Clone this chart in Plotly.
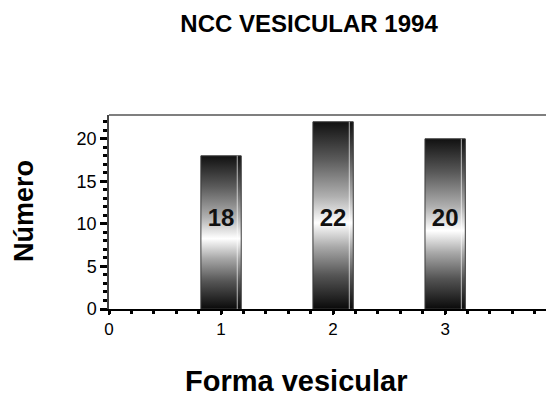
import plotly.graph_objects as go

# Forma vesicular: count per category
categories = [1, 2, 3]
counts = [18, 22, 20]
labels = ["18", "22", "20"]

x_ticks = [0, 1, 2, 3]
y_ticks = [0, 5, 10, 15, 20]

bar_width = 0.36
label_y = 10.5

# dark-light-dark vertical shading for each bar
shade = [
    [0.0, "#0a0a0a"],
    [0.18, "#555555"],
    [0.33, "#a8a8a8"],
    [0.46, "#ffffff"],
    [0.6, "#b0b0b0"],
    [0.8, "#5a5a5a"],
    [1.0, "#111111"],
]

fig = go.Figure()

for c, v in zip(categories, counts):
    x0, x1 = c - bar_width / 2, c + bar_width / 2
    fig.add_trace(go.Scatter(
        x=[x0, x1, x1, x0, x0],
        y=[0, 0, v, v, 0],
        mode="lines",
        fill="toself",
        fillgradient=dict(type="vertical", colorscale=shade, start=0, stop=v),
        line=dict(color="#3a3a3a", width=1),
        hoverinfo="skip",
        showlegend=False,
    ))
    # light edge strip on the right side of the bar
    fig.add_trace(go.Scatter(
        x=[x1 - 0.035, x1 - 0.035],
        y=[0, v],
        mode="lines",
        line=dict(color="rgba(255,255,255,0.55)", width=1.2),
        hoverinfo="skip",
        showlegend=False,
    ))

fig.add_trace(go.Scatter(
    x=categories,
    y=[label_y] * len(categories),
    mode="text",
    text=labels,
    textfont=dict(family="Liberation Sans", size=24, color="#111111", weight="bold"),
    hoverinfo="skip",
    showlegend=False,
))

fig.update_layout(
    width=546,
    height=398,
    margin=dict(l=109, r=0, t=115, b=89),
    paper_bgcolor="white",
    plot_bgcolor="white",
    title=dict(
        text="<b>NCC VESICULAR 1994</b>",
        x=0.566, xanchor="center",
        y=0.94, yanchor="middle",
        font=dict(family="Liberation Sans", size=24, color="black"),
    ),
    font=dict(family="Liberation Sans", color="black"),
    annotations=[
        dict(text="<b>Forma vesicular</b>", xref="paper", yref="paper",
             x=(296 - 109) / 437, y=-(381 - 309) / 194, xanchor="center", yanchor="middle",
             showarrow=False, font=dict(size=29, color="black")),
        dict(text="<b>Número</b>", xref="paper", yref="paper", textangle=-90,
             x=(24 - 109) / 437, y=(309 - 211) / 194, xanchor="center", yanchor="middle",
             showarrow=False, font=dict(size=27, color="black")),
    ],
)

fig.update_xaxes(
    range=[0, 3.9],
    tickvals=x_ticks,
    ticks="outside",
    ticklen=4,
    tickwidth=2,
    tickcolor="black",
    tickfont=dict(size=17, color="black"),
    showline=True,
    linecolor="black",
    linewidth=1.5,
    showgrid=False,
    zeroline=False,
    minor=dict(dtick=0.2, ticks="outside", ticklen=3, tickwidth=3, tickcolor="black"),
)

fig.update_yaxes(
    range=[0, 22.8],
    tickvals=y_ticks,
    ticks="outside",
    ticklen=7,
    tickwidth=2.5,
    tickcolor="black",
    tickfont=dict(size=18, color="black"),
    showline=True,
    linecolor="#444444",
    linewidth=1.5,
    showgrid=False,
    zeroline=False,
    minor=dict(dtick=1, ticks="outside", ticklen=4, tickwidth=3, tickcolor="black"),
)

# top frame line
fig.add_shape(type="line", xref="paper", yref="paper", x0=0, x1=1, y0=1, y1=1,
              line=dict(color="#555555", width=1.5))

fig.write_html("out.html")
